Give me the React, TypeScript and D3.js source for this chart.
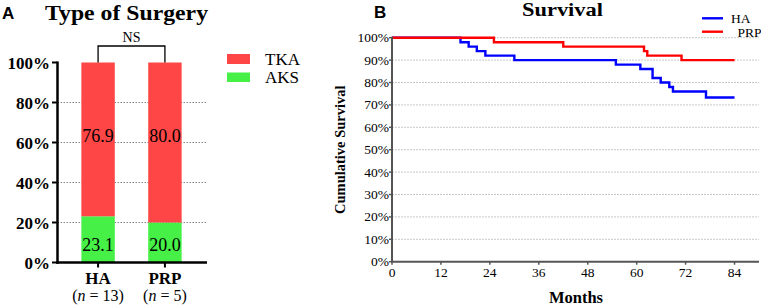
import React from "react";
import * as d3 from "d3";

const groups = ["HA", "PRP"];
const groupN = ["(n = 13)", "(n = 5)"];
const aksPct = [23.1, 20.0];
const tkaPct = [76.9, 80.0];
const pctTicksA = [0, 20, 40, 60, 80, 100];

const haMonths = [0, 16.8, 18.8, 20.8, 22.9, 30.0, 54.9, 60.9, 63.9, 65.9, 68.0, 68.9, 77.0, 84];
const haSurv = [100, 98, 96, 94, 92, 90, 88, 86, 82, 80, 78, 76, 73.3, 73.3];
const prpMonths = [0, 25.0, 42.0, 61.8, 62.6, 71.0, 84];
const prpSurv = [100, 98, 96, 94, 92, 90, 90];
const monthTicks = [0, 12, 24, 36, 48, 60, 72, 84];
const survTicks = [0, 10, 20, 30, 40, 50, 60, 70, 80, 90, 100];

const RED = "#ff4646";
const GREEN = "#46f046";
const SERIF = "'Liberation Serif', 'Times New Roman', serif";
const SANS = "'Liberation Sans', Arial, sans-serif";

function PanelA() {
  const y = d3.scaleLinear().domain([0, 100]).range([262.5, 62.5]);
  const x = d3.scaleBand().domain(groups).range([68, 195]).paddingInner(0.5).paddingOuter(0.2);
  const bw = x.bandwidth();
  const cx = (g: string) => (x(g) as number) + bw / 2;
  return (
    <g>
      <text x={2} y={19} fontFamily={SANS} fontWeight="bold" fontSize={17}>A</text>
      <text x={45} y={19.5} fontFamily={SERIF} fontWeight="bold" fontSize={21} textLength={163} lengthAdjust="spacingAndGlyphs">Type of Surgery</text>
      {[20, 40, 60, 80].map((t) => (
        <line key={t} x1={57.5} x2={207} y1={y(t)} y2={y(t)} stroke="#666" strokeWidth={0.8} strokeDasharray="1.5,1.5" />
      ))}
      {groups.map((g, i) => (
        <g key={g}>
          <rect x={x(g)} width={bw} y={y(aksPct[i])} height={y(0) - y(aksPct[i])} fill={GREEN} />
          <rect x={x(g)} width={bw} y={y(100)} height={y(aksPct[i]) - y(100)} fill={RED} />
          <text x={cx(g)} y={y(63.5) + 6} textAnchor="middle" fontFamily={SERIF} fontSize={18}>{tkaPct[i].toFixed(1)}</text>
          <text x={cx(g)} y={y(8.7) + 6} textAnchor="middle" fontFamily={SERIF} fontSize={18}>{aksPct[i].toFixed(1)}</text>
          <line x1={cx(g)} x2={cx(g)} y1={y(0)} y2={y(0) + 5} stroke="#000" strokeWidth={2} />
          <text x={cx(g)} y={284} textAnchor="middle" fontFamily={SERIF} fontWeight="bold" fontSize={17}>{g}</text>
          <text x={cx(g)} y={301} textAnchor="middle" fontFamily={SERIF} fontSize={16}>
            (<tspan fontStyle="italic">n</tspan>{groupN[i].slice(2)}
          </text>
        </g>
      ))}
      <path d={`M${cx("HA")},${y(100)} V46 H${cx("PRP")} V${y(100)}`} fill="none" stroke="#000" strokeWidth={1.3} />
      <text x={(cx("HA") + cx("PRP")) / 2} y={41.5} textAnchor="middle" fontFamily={SERIF} fontSize={14}>NS</text>
      <line x1={57.5} x2={57.5} y1={y(100) - 1} y2={y(0) + 1.25} stroke="#000" strokeWidth={2.5} />
      <line x1={56.25} x2={207} y1={y(0)} y2={y(0)} stroke="#000" strokeWidth={2.5} />
      {pctTicksA.map((t) => (
        <g key={t}>
          <line x1={52} x2={57.5} y1={y(t)} y2={y(t)} stroke="#000" strokeWidth={2} />
          <text x={50} y={y(t) + 6} textAnchor="end" fontFamily={SERIF} fontWeight="bold" fontSize={17}>{t}%</text>
        </g>
      ))}
      <rect x={227} y={54} width={23} height={10} fill={RED} />
      <text x={265} y={64.5} fontFamily={SERIF} fontSize={17}>TKA</text>
      <rect x={227} y={72.5} width={23} height={9.5} fill={GREEN} />
      <text x={265} y={82.5} fontFamily={SERIF} fontSize={17}>AKS</text>
    </g>
  );
}

function PanelB() {
  const x = d3.scaleLinear().domain([0, 90]).range([392, 759]);
  const y = d3.scaleLinear().domain([0, 100]).range([261.7, 37.7]);
  const mk = (ms: number[], ss: number[]) =>
    d3
      .line<number>()
      .x((m) => x(m))
      .y((_, i) => y(ss[i]))
      .curve(d3.curveStepAfter)(ms) as string;
  return (
    <g>
      <text x={374} y={18} fontFamily={SANS} fontWeight="bold" fontSize={17}>B</text>
      <text x={522} y={16} fontFamily={SERIF} fontWeight="bold" fontSize={18.5} textLength={81} lengthAdjust="spacingAndGlyphs">Survival</text>
      {survTicks.filter((t) => t > 0).map((t) => (
        <line key={t} x1={x(0)} x2={x(90)} y1={y(t)} y2={y(t)} stroke="#c8c8c8" strokeWidth={1} strokeDasharray="2,1" />
      ))}
      <path d={mk(haMonths, haSurv)} fill="none" stroke="#0000ff" strokeWidth={2.4} />
      <path d={mk(prpMonths, prpSurv)} fill="none" stroke="#ff0000" strokeWidth={2.4} />
      <line x1={x(0)} x2={x(0)} y1={y(100) - 1} y2={y(0)} stroke="#555" strokeWidth={2} />
      <line x1={x(0) - 1} x2={x(90)} y1={y(0)} y2={y(0)} stroke="#555" strokeWidth={2} />
      {survTicks.map((t) => (
        <g key={t}>
          <line x1={x(0) - 3} x2={x(0)} y1={y(t)} y2={y(t)} stroke="#555" strokeWidth={1.5} />
          <text x={389} y={y(t) + 4.5} textAnchor="end" fontFamily={SERIF} fontSize={13.5}>{t}%</text>
        </g>
      ))}
      {monthTicks.map((t) => (
        <g key={t}>
          <line x1={x(t)} x2={x(t)} y1={y(0)} y2={y(0) + 3} stroke="#555" strokeWidth={1.5} />
          <text x={x(t)} y={277} textAnchor="middle" fontFamily={SERIF} fontSize={13.5}>{t}</text>
        </g>
      ))}
      <text x={576} y={303} textAnchor="middle" fontFamily={SERIF} fontWeight="bold" fontSize={16.5}>Months</text>
      <text transform={`translate(345,${(y(0) + y(100)) / 2}) rotate(-90)`} textAnchor="middle" fontFamily={SERIF} fontWeight="bold" fontSize={14.5}>Cumulative Survival</text>
      <line x1={702} x2={723} y1={18.3} y2={18.3} stroke="#0000ff" strokeWidth={2.4} />
      <text x={731} y={23} fontFamily={SERIF} fontSize={13.5}>HA</text>
      <line x1={702} x2={723} y1={31.7} y2={31.7} stroke="#ff0000" strokeWidth={2.4} />
      <text x={737.5} y={36.5} fontFamily={SERIF} fontSize={13.5}>PRP</text>
    </g>
  );
}

export default function App() {
  return (
    <svg width={761} height={307} style={{ position: "absolute", left: 0, top: 0, background: "#fff" }}>
      <rect width={761} height={307} fill="#fff" />
      <PanelA />
      <PanelB />
    </svg>
  );
}
